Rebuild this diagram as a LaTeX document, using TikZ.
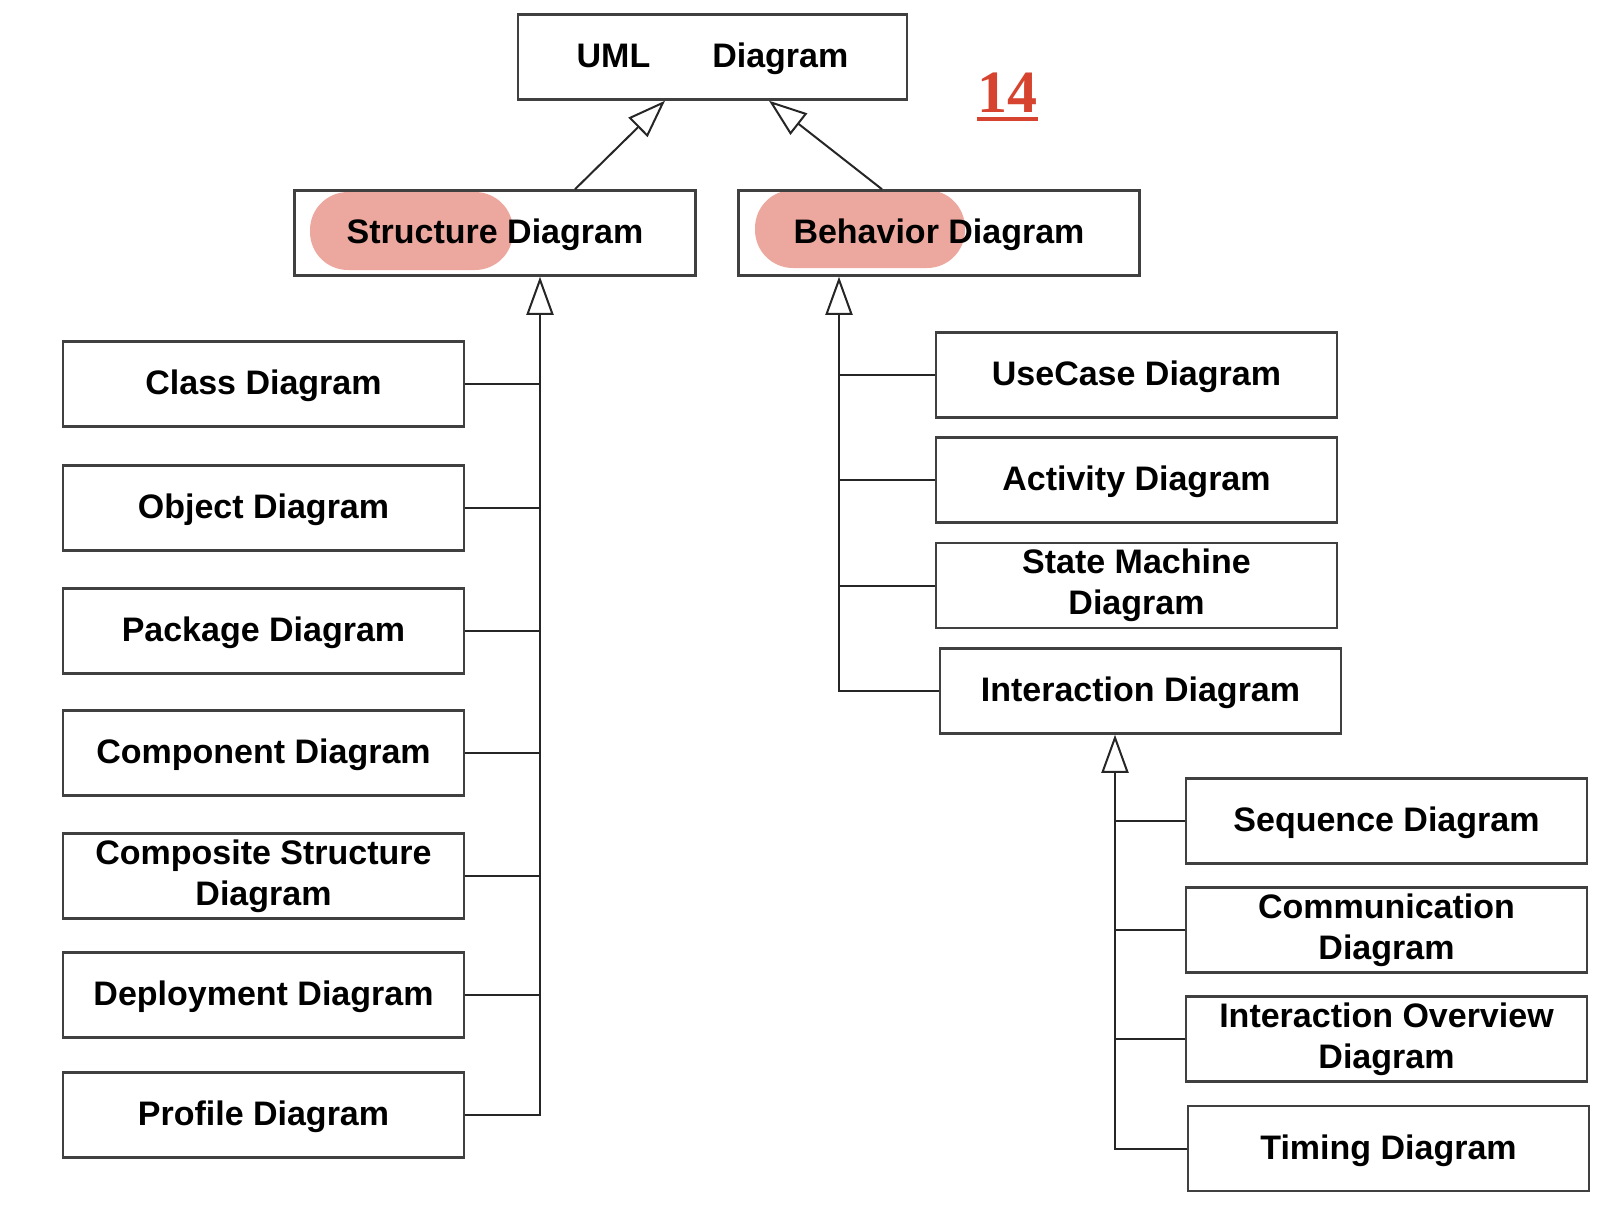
\documentclass[tikz,border=0pt]{standalone}
\usepackage{fontspec}
\setmainfont{Liberation Sans}
\newfontfamily\pagefont{Liberation Serif}
\usetikzlibrary{arrows.meta, positioning, backgrounds}
\definecolor{markpink}{RGB}{236,168,158}
\definecolor{pagered}{RGB}{214,68,48}
\tikzset{
  diagram/.style={draw=black!75, line width=2.5pt, minimum width=401pt, minimum height=85pt,
    align=center, font=\fontsize{34}{41}\selectfont\bfseries}, % every diagram box
  oneline/.style={text height=28pt, text depth=7pt}, % single line labels sit a bit lower
  inherit/.style={draw=black!85, line width=2pt,
    -{Triangle[open, length=38pt, width=27pt, line width=2pt]}}, % generalisation arrow
  link/.style={draw=black!85, line width=2pt}, % plain branch line
  highlight/.style={fill=markpink, rounded corners=38pt, minimum height=78pt, inner sep=0pt},
}

\begin{document}
\begin{tikzpicture}[x=1pt, y=-1pt, on grid]
  \useasboundingbox (0,0) rectangle (1618,1228);

  % top levels
  \node[diagram, oneline, minimum width=389pt] (uml) at (712.5,57) {UML\hspace{62pt}Diagram};
  \node[diagram, oneline] (structure) at (495,233) {Structure Diagram};
  \node[diagram, oneline] (behavior) at (939,233) {Behavior Diagram};

  \node[font=\pagefont\bfseries\fontsize{60}{60}\selectfont, text=pagered, inner sep=0pt, anchor=base]
    (page) at (1007.5,113) {14};
  \draw[pagered, line width=4pt] ([yshift=-6pt]page.base west) -- ([yshift=-6pt]page.base east);

  \begin{scope}[on background layer]
    \node[highlight, minimum width=203pt] (smark) at ([xshift=-83.5pt, yshift=2pt]structure.center) {};
    \node[highlight, minimum width=210pt] (bmark) at ([xshift=-79pt, yshift=4pt]behavior.center) {};
  \end{scope}

  \draw[inherit] ([xshift=80pt]structure.north) -- ([xshift=-47.5pt]uml.south);
  \draw[inherit] ([xshift=-57pt]behavior.north) -- ([xshift=56.5pt]uml.south);

  % structure diagrams
  \node[diagram, oneline] (class) at (263.5,384) {Class Diagram};
  \node[diagram, oneline, below=124pt of class] (object) {Object Diagram};
  \node[diagram, oneline, below=123pt of object] (package) {Package Diagram};
  \node[diagram, oneline, below=122pt of package] (component) {Component Diagram};
  \node[diagram, below=123pt of component] (composite) {Composite Structure\\Diagram};
  \node[diagram, oneline, below=119pt of composite] (deployment) {Deployment Diagram};
  \node[diagram, oneline, below=120pt of deployment] (profile) {Profile Diagram};

  \coordinate (stip) at ([xshift=45pt]structure.south);
  \draw[inherit] (profile.east) -| (stip);
  \foreach \n in {class, object, package, component, composite, deployment}
    \draw[link] (\n.east) -- (\n.east -| stip);

  % behavior diagrams
  \node[diagram, oneline] (usecase) at (1136.5,375) {UseCase Diagram};
  \node[diagram, oneline, below=105pt of usecase] (activity) {Activity Diagram};
  \node[diagram, below=105.5pt of activity] (statemachine) {State Machine\\Diagram};
  \node[diagram, oneline, below=105.5pt of statemachine, xshift=4pt] (interaction) {Interaction Diagram};

  \coordinate (btip) at ([xshift=-100pt]behavior.south);
  \draw[inherit] (interaction.west) -| (btip);
  \foreach \n in {usecase, activity, statemachine}
    \draw[link] (\n.west -| btip) -- (\n.west);

  % interaction diagrams
  \node[diagram, oneline] (sequence) at (1386.5,821) {Sequence Diagram};
  \node[diagram, below=109pt of sequence] (communication) {Communication\\Diagram};
  \node[diagram, below=109pt of communication] (overview) {Interaction Overview\\Diagram};
  \node[diagram, oneline, below=109.5pt of overview, xshift=2pt] (timing) {Timing Diagram};

  \coordinate (itip) at ([xshift=-25.5pt]interaction.south);
  \draw[inherit] (timing.west) -| (itip);
  \foreach \n in {sequence, communication, overview}
    \draw[link] (\n.west -| itip) -- (\n.west);
\end{tikzpicture}
\end{document}
